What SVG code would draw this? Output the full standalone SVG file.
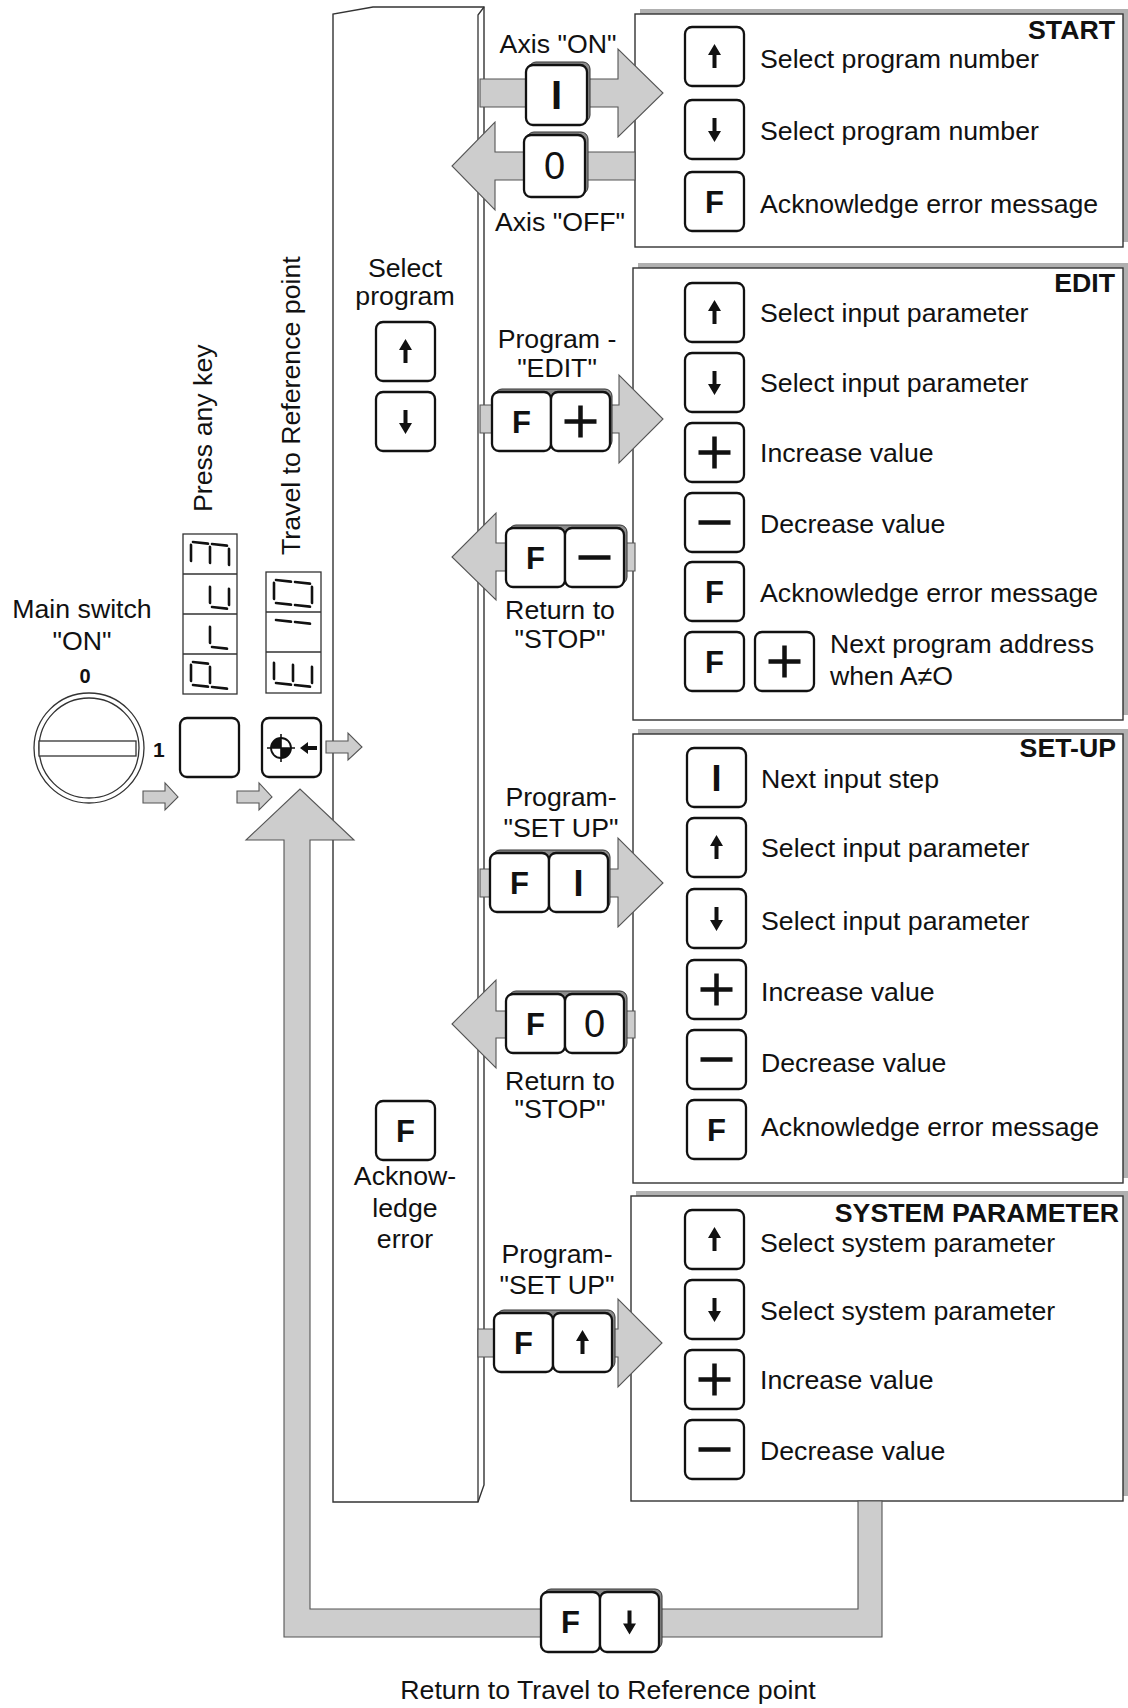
<svg xmlns="http://www.w3.org/2000/svg" xmlns:xlink="http://www.w3.org/1999/xlink" width="1128" height="1708" viewBox="0 0 1128 1708">
<style>
.t{font-family:"Liberation Sans",Arial,sans-serif;font-size:26.7px;fill:#111}
.c{text-anchor:middle}
.e{text-anchor:end}
.b{font-weight:bold}
.kf{font-family:"Liberation Sans",Arial,sans-serif;font-weight:bold;font-size:31px;fill:#111;text-anchor:middle}
.k{fill:#fff;stroke:#111;stroke-width:2.3}
.ks{fill:#8c8c8c;stroke:#333;stroke-width:1}
.ar{fill:#cdcdcd;stroke:#555;stroke-width:1.1}
.box{fill:#fff;stroke:#333;stroke-width:1.4}
.bsh{fill:#b0b0b0}
.sym{fill:none;stroke:#111;stroke-width:4.5}
.arr{fill:#111}
.seg{stroke:#111;stroke-width:2.6;stroke-linecap:round}
.ln{fill:none;stroke:#333;stroke-width:1.3}
</style>
<defs>
<rect id="k" width="59" height="59" rx="7"/>
<path id="up" d="M0,-12.5 L-6.5,-1.5 L-2,-1.5 L-2,11.5 L2,11.5 L2,-1.5 L6.5,-1.5 Z"/>
<path id="pl" d="M-16,0H16M0,-16V16"/>
<path id="mi" d="M-16,0H16"/>
</defs>

<g id="column">
<path class="box" d="M333,1502 V14 L373,7 H484 V1485 L478,1502 Z"/>
<path class="ln" d="M484,7 L478,15 V1502"/>
<text class="t c" x="405" y="277">Select</text>
<text class="t c" x="405" y="305">program</text>
<use href="#k" class="k" x="376" y="322"/>
<use href="#up" class="arr" transform="translate(405.5,351.5)"/>
<use href="#k" class="k" x="376" y="392"/>
<use href="#up" class="arr" transform="translate(405.5,421.5) rotate(180)"/>
<use href="#k" class="k" x="376" y="1101"/>
<text class="kf" x="405.5" y="1142">F</text>
<text class="t c" x="405" y="1185">Acknow-</text>
<text class="t c" x="405" y="1217">ledge</text>
<text class="t c" x="405" y="1248">error</text>
</g>

<g id="start">
<rect class="bsh" x="640" y="9" width="488" height="233"/>
<rect class="box" x="635" y="14" width="488" height="233"/>
<text class="t b e" x="1115" y="39">START</text>
<use href="#k" class="k" x="685" y="27"/>
<use href="#up" class="arr" transform="translate(714.5,56.5)"/>
<text class="t" x="760" y="68">Select program number</text>
<use href="#k" class="k" x="685" y="100"/>
<use href="#up" class="arr" transform="translate(714.5,129.5) rotate(180)"/>
<text class="t" x="760" y="140">Select program number</text>
<use href="#k" class="k" x="685" y="172"/>
<text class="kf" x="714.5" y="213">F</text>
<text class="t" x="760" y="213">Acknowledge error message</text>
</g>

<g id="edit">
<rect class="bsh" x="638" y="263" width="490" height="452"/>
<rect class="box" x="633" y="268" width="490" height="452"/>
<text class="t b e" x="1115" y="292">EDIT</text>
<use href="#k" class="k" x="685" y="283"/>
<use href="#up" class="arr" transform="translate(714.5,312.5)"/>
<text class="t" x="760" y="322">Select input parameter</text>
<use href="#k" class="k" x="685" y="353"/>
<use href="#up" class="arr" transform="translate(714.5,382.5) rotate(180)"/>
<text class="t" x="760" y="392">Select input parameter</text>
<use href="#k" class="k" x="685" y="423"/>
<use href="#pl" class="sym" transform="translate(714.5,452.5)"/>
<text class="t" x="760" y="462">Increase value</text>
<use href="#k" class="k" x="685" y="493"/>
<use href="#mi" class="sym" transform="translate(714.5,522.5)"/>
<text class="t" x="760" y="533">Decrease value</text>
<use href="#k" class="k" x="685" y="562"/>
<text class="kf" x="714.5" y="603">F</text>
<text class="t" x="760" y="602">Acknowledge error message</text>
<use href="#k" class="k" x="685" y="632"/>
<text class="kf" x="714.5" y="673">F</text>
<use href="#k" class="k" x="755" y="632"/>
<use href="#pl" class="sym" transform="translate(784.5,661.5)"/>
<text class="t" x="830" y="653">Next program address</text>
<text class="t" x="830" y="685">when A≠O</text>
</g>

<g id="setup">
<rect class="bsh" x="638" y="729" width="490" height="449"/>
<rect class="box" x="633" y="734" width="490" height="449"/>
<text class="t b e" x="1116" y="757">SET-UP</text>
<use href="#k" class="k" x="687" y="748"/>
<text class="t c b" x="716.5" y="791" style="font-size:36px">I</text>
<text class="t" x="761" y="788">Next input step</text>
<use href="#k" class="k" x="687" y="818"/>
<use href="#up" class="arr" transform="translate(716.5,847.5)"/>
<text class="t" x="761" y="857">Select input parameter</text>
<use href="#k" class="k" x="687" y="889"/>
<use href="#up" class="arr" transform="translate(716.5,918.5) rotate(180)"/>
<text class="t" x="761" y="930">Select input parameter</text>
<use href="#k" class="k" x="687" y="960"/>
<use href="#pl" class="sym" transform="translate(716.5,989.5)"/>
<text class="t" x="761" y="1001">Increase value</text>
<use href="#k" class="k" x="687" y="1030"/>
<use href="#mi" class="sym" transform="translate(716.5,1059.5)"/>
<text class="t" x="761" y="1072">Decrease value</text>
<use href="#k" class="k" x="687" y="1100"/>
<text class="kf" x="716.5" y="1141">F</text>
<text class="t" x="761" y="1136">Acknowledge error message</text>
</g>

<g id="system">
<rect class="bsh" x="636" y="1191" width="492" height="305"/>
<rect class="box" x="631" y="1196" width="492" height="305"/>
<text class="t b e" x="1119" y="1222">SYSTEM PARAMETER</text>
<use href="#k" class="k" x="685" y="1210"/>
<use href="#up" class="arr" transform="translate(714.5,1239.5)"/>
<text class="t" x="760" y="1252">Select system parameter</text>
<use href="#k" class="k" x="685" y="1280"/>
<use href="#up" class="arr" transform="translate(714.5,1309.5) rotate(180)"/>
<text class="t" x="760" y="1320">Select system parameter</text>
<use href="#k" class="k" x="685" y="1350"/>
<use href="#pl" class="sym" transform="translate(714.5,1379.5)"/>
<text class="t" x="760" y="1389">Increase value</text>
<use href="#k" class="k" x="685" y="1420"/>
<use href="#mi" class="sym" transform="translate(714.5,1449.5)"/>
<text class="t" x="760" y="1460">Decrease value</text>
</g>

<g id="connectors">
<path class="ar" d="M882,1501 V1637 H284 V840 H246 L300,789 L354,840 H310 V1609 H858 V1501 Z"/>
<polygon class="ar" points="143,791 165,791 165,783 178,797 165,810 165,803 143,803"/>
<polygon class="ar" points="237,791 259,791 259,783 272,797 259,810 259,803 237,803"/>
<polygon class="ar" points="326,741 348,741 348,733 362,747 348,760 348,753 326,753"/>
<polygon class="ar" points="480,79 618,79 618,49 663,93 618,137 618,107 480,107"/>
<polygon class="ar" points="635,152 495,152 495,122 452,166 495,210 495,180 635,180"/>
<polygon class="ar" points="480,405 619,405 619,375 663,419 619,463 619,433 480,433"/>
<polygon class="ar" points="635,543 496,543 496,513 452,557 496,600 496,571 635,571"/>
<polygon class="ar" points="480,869 618,869 618,838 663,883 618,927 618,897 480,897"/>
<polygon class="ar" points="635,1011 496,1011 496,980 452,1024 496,1068 496,1038 635,1038"/>
<polygon class="ar" points="478,1329 618,1329 618,1299 662,1343 618,1387 618,1357 478,1357"/>
</g>

<g id="switch">
<text class="t c" x="82" y="618">Main switch</text>
<text class="t c" x="82" y="650">"ON"</text>
<text class="t c b" x="85" y="683" style="font-size:20px">0</text>
<text class="t b" x="153" y="757" style="font-size:21px">1</text>
<circle cx="89" cy="748" r="55" fill="#fff" stroke="#333" stroke-width="1.3"/>
<circle cx="89" cy="748" r="50" fill="#fff" stroke="#333" stroke-width="1.3"/>
<rect x="39" y="741" width="97" height="15" fill="#fff" stroke="#333" stroke-width="1.3"/>
</g>

<g id="display-prog">
<text class="t" transform="translate(212,512) rotate(-90)">Press any key</text>
<rect x="183" y="534" width="54" height="160" fill="#fff" stroke="#333" stroke-width="1.3"/>
<path class="ln" d="M183,574H237M183,614H237M183,654H237"/>
<g class="seg" transform="translate(183,534) skewY(6)"><path d="M8,10V26M27,10V26M46,10V26M10,7H25M29,7H44"/></g>
<g class="seg" transform="translate(183,574) skewY(6)"><path d="M27,10V26M46,10V26M29,30H44"/></g>
<g class="seg" transform="translate(183,614) skewY(6)"><path d="M27,10V26M29,30H44"/></g>
<g class="seg" transform="translate(183,654) skewY(6)"><path d="M8,10V26M27,10V26M10,7H25M10,30H25M29,30H44"/></g>
<use href="#k" class="k" x="180" y="718"/>
</g>

<g id="display-ref">
<text class="t" transform="translate(300,555) rotate(-90)">Travel to Reference point</text>
<rect x="266" y="572" width="55" height="121" fill="#fff" stroke="#333" stroke-width="1.3"/>
<path class="ln" d="M266,612H321M266,652H321"/>
<g class="seg" transform="translate(266,572) skewY(6)"><path d="M8,10V26M46,10V26M10,7H25M29,7H44M10,30H25M29,30H44"/></g>
<g class="seg" transform="translate(266,612) skewY(6)"><path d="M10,7H25M29,7H44"/></g>
<g class="seg" transform="translate(266,652) skewY(6)"><path d="M8,10V26M27,10V26M46,10V26M10,30H25M29,30H44"/></g>
<use href="#k" class="k" x="262" y="718"/>
<circle cx="281" cy="748" r="10" fill="#fff" stroke="#111" stroke-width="1.8"/>
<path d="M281,748 V738 A10,10 0 0,0 271,748 Z M281,748 V758 A10,10 0 0,0 291,748 Z" fill="#111"/>
<path d="M267,748H295M281,734V762" stroke="#111" stroke-width="1.6"/>
<path d="M300,748 L308,742 V746 H317 V750 H308 V754 Z" fill="#111"/>
</g>

<g id="axis-on">
<text class="t c" x="558" y="53">Axis "ON"</text>
<rect class="ks" x="529" y="62" width="61" height="60" rx="7"/>
<rect class="k" x="526" y="65" width="61" height="60" rx="7"/>
<text class="t c b" x="556.5" y="109" style="font-size:40px">I</text>
</g>

<g id="axis-off">
<rect class="ks" x="527" y="132" width="61" height="62" rx="7"/>
<rect class="k" x="524" y="135" width="61" height="62" rx="7"/>
<text class="t c" x="554.5" y="179" style="font-size:38px">0</text>
<text class="t c" x="560" y="231">Axis "OFF"</text>
</g>

<g id="to-edit">
<text class="t c" x="557" y="348">Program -</text>
<text class="t c" x="557" y="377">"EDIT"</text>
<rect class="ks" x="495" y="389" width="117" height="59" rx="7"/>
<use href="#k" class="k" x="492" y="392"/>
<use href="#k" class="k" x="551" y="392"/>
<text class="kf" x="521.5" y="433">F</text>
<use href="#pl" class="sym" transform="translate(580.5,421.5)"/>
</g>

<g id="edit-stop">
<rect class="ks" x="509" y="525" width="118" height="59" rx="7"/>
<use href="#k" class="k" x="506" y="528"/>
<use href="#k" class="k" x="565" y="528"/>
<text class="kf" x="535.5" y="569">F</text>
<use href="#mi" class="sym" transform="translate(594.5,557.5)"/>
<text class="t c" x="560" y="619">Return to</text>
<text class="t c" x="560" y="648">"STOP"</text>
</g>

<g id="to-setup">
<text class="t c" x="561" y="806">Program-</text>
<text class="t c" x="561" y="837">"SET UP"</text>
<rect class="ks" x="493" y="850" width="117" height="59" rx="7"/>
<use href="#k" class="k" x="490" y="853"/>
<use href="#k" class="k" x="549" y="853"/>
<text class="kf" x="519.5" y="894">F</text>
<text class="t c b" x="578.5" y="896" style="font-size:36px">I</text>
</g>

<g id="setup-stop">
<rect class="ks" x="509" y="991" width="118" height="59" rx="7"/>
<use href="#k" class="k" x="506" y="994"/>
<use href="#k" class="k" x="565" y="994"/>
<text class="kf" x="535.5" y="1035">F</text>
<text class="t c" x="594.5" y="1037" style="font-size:38px">0</text>
<text class="t c" x="560" y="1090">Return to</text>
<text class="t c" x="560" y="1118">"STOP"</text>
</g>

<g id="to-system">
<text class="t c" x="557" y="1263">Program-</text>
<text class="t c" x="557" y="1294">"SET UP"</text>
<rect class="ks" x="497" y="1310" width="118" height="59" rx="7"/>
<use href="#k" class="k" x="494" y="1313"/>
<use href="#k" class="k" x="553" y="1313"/>
<text class="kf" x="523.5" y="1354">F</text>
<use href="#up" class="arr" transform="translate(582.5,1342.5)"/>
</g>

<g id="return-ref">
<rect class="ks" x="544" y="1589" width="118" height="60" rx="7"/>
<rect class="k" x="541" y="1592" width="59" height="60" rx="7"/>
<rect class="k" x="600" y="1592" width="59" height="60" rx="7"/>
<text class="kf" x="570.5" y="1633">F</text>
<use href="#up" class="arr" transform="translate(629.5,1622) rotate(180)"/>
<text class="t c" x="608" y="1699">Return to Travel to Reference point</text>
</g>
</svg>
